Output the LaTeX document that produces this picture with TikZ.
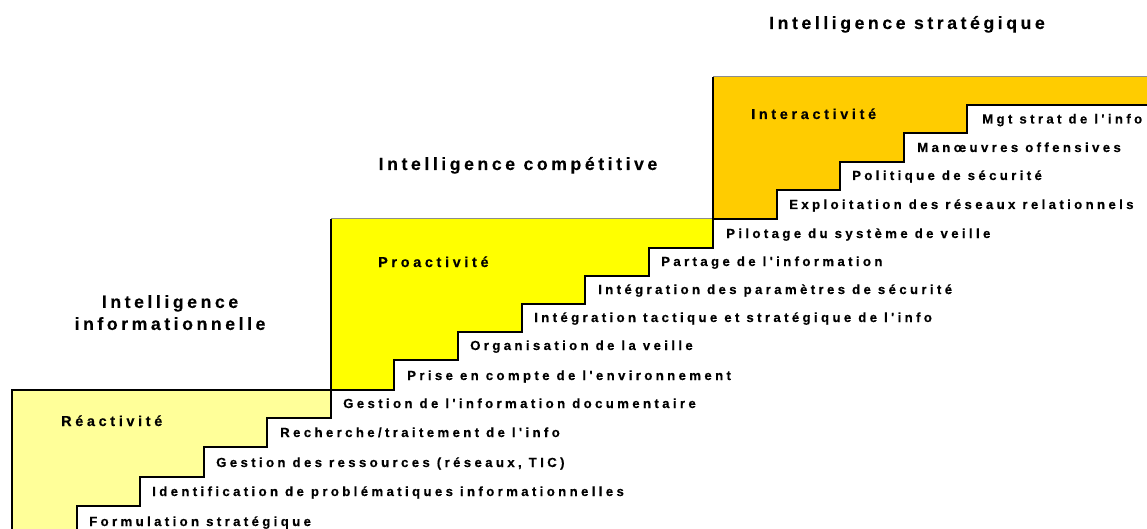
\documentclass[tikz,border=0pt]{standalone}
\usepackage{fontspec}
\setmainfont{Liberation Sans}
\newfontfamily\stepfont[LetterSpace=25.5,Ligatures=TeXOff,BoldFeatures={FakeBold=0.3}]{Liberation Sans}
\newfontfamily\headfont[LetterSpace=20,Ligatures=TeXOff,BoldFeatures={FakeBold=0.2}]{Liberation Sans}
\usepackage{tikz}
\usetikzlibrary{positioning}

\definecolor{reactif}{HTML}{FFFF99}
\definecolor{proactif}{HTML}{FFFF00}
\definecolor{interactif}{HTML}{FFCC00}

\begin{document}
\begin{tikzpicture}[x=1pt, y=-1pt,
    edge/.style={draw=black, line width=2.4pt, line join=miter},
    rim/.style={draw=black!45, line width=1pt},
    steplabel/.style={anchor=base west, inner sep=0pt, font=\stepfont\bfseries\fontsize{13.2}{15}\selectfont},
    blocklabel/.style={anchor=base west, inner sep=0pt, font=\stepfont\bfseries\fontsize{14.4}{17}\selectfont},
    heading/.style={inner sep=0pt, align=center, font=\headfont\bfseries\fontsize{17.7}{22}\selectfont}]
    \clip (0,0) rectangle (1147,529);

    % blocks
    \fill[reactif] (12,390) -- (331,390) -- (331,418) -- (267,418) -- (267,447) -- (204,447)
        -- (204,477) -- (140,477) -- (140,506) -- (77,506) -- (77,540) -- (12,540) -- cycle;
    \fill[proactif] (331,219) -- (713,219) -- (713,248) -- (649,248) -- (649,276) -- (585,276)
        -- (585,304) -- (522,304) -- (522,332) -- (458,332) -- (458,360) -- (394,360) -- (394,390) -- (331,390) -- cycle;
    \fill[interactif] (713,77) -- (1160,77) -- (1160,105) -- (967,105) -- (967,133) -- (904,133)
        -- (904,162) -- (840,162) -- (840,190) -- (777,190) -- (777,219) -- (713,219) -- cycle;

    \draw[rim] (331,219) -- (713,219);
    \draw[rim] (713,77) -- (1160,77);
    \draw[edge] (12,540) -- (12,390) -- (331,390) -- (331,418) -- (267,418) -- (267,447) -- (204,447)
        -- (204,477) -- (140,477) -- (140,506) -- (77,506) -- (77,540);
    \draw[edge] (331,390) -- (331,219);
    \draw[edge] (713,219) -- (713,248) -- (649,248) -- (649,276) -- (585,276) -- (585,304) -- (522,304)
        -- (522,332) -- (458,332) -- (458,360) -- (394,360) -- (394,390) -- (331,390);
    \draw[edge] (713,248) -- (713,77);
    \draw[edge] (1160,105) -- (967,105) -- (967,133) -- (904,133) -- (904,162) -- (840,162)
        -- (840,190) -- (777,190) -- (777,219) -- (713,219);

    % steps
    \node (formul) [steplabel] at (89,526) {Formulation stratégique};
    \node (ident) [steplabel] at (152,496) {Identification de problématiques informationnelles};
    \node (ressou) [steplabel] at (216,467) {Gestion des ressources (réseaux, TIC)};
    \node (recher) [steplabel] at (280,437) {Recherche/traitement de l'info};
    \node (gestdoc) [steplabel] at (343,408) {Gestion de l'information documentaire};
    \node (prise) [steplabel] at (407,380) {Prise en compte de l'environnement};
    \node (organ) [steplabel] at (470,350) {Organisation de la veille};
    \node (integt) [steplabel] at (534,322) {Intégration tactique et stratégique de l'info};
    \node (integp) [steplabel] at (598,294) {Intégration des paramètres de sécurité};
    \node (partage) [steplabel] at (661,266) {Partage de l'information};
    \node (pilot) [steplabel] at (726,238) {Pilotage du système de veille};
    \node (exploit) [steplabel] at (789,209) {Exploitation des réseaux relationnels};
    \node (politiq) [steplabel] at (852,180) {Politique de sécurité};
    \node (manoeuv) [steplabel] at (917,152) {Manœuvres offensives};
    \node (mgt) [steplabel] at (982,123.5) {Mgt strat de l'info};

    % block names
    \node (reac) [blocklabel] at (61,426) {Réactivité};
    \node (proac) [blocklabel] at (378,267) {Proactivité};
    \node (interac) [blocklabel] at (751,119) {Interactivité};

    % levels
    \node (infoint) [heading] at (170,312.6) {Intelligence\\informationnelle};
    \node (compint) [heading, anchor=base] at (518,170) {Intelligence compétitive};
    \node (stratint) [heading, anchor=base] at (907,29) {Intelligence stratégique};
\end{tikzpicture}
\end{document}
